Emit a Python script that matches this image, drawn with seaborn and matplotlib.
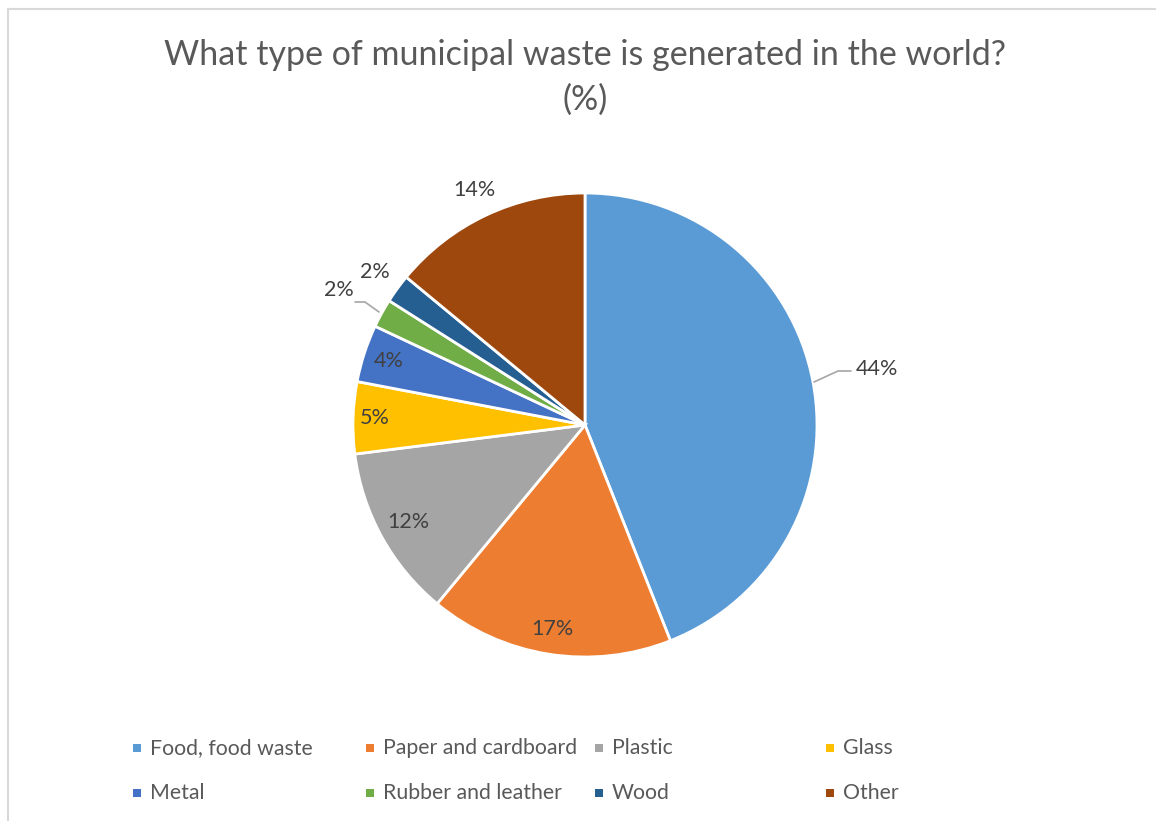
import matplotlib
matplotlib.use("Agg")
import matplotlib.pyplot as plt
from matplotlib.patches import Rectangle
from matplotlib.lines import Line2D
import numpy as np
import seaborn as sns

# data
categories = ["Food, food waste", "Paper and cardboard", "Plastic", "Glass",
              "Metal", "Rubber and leather", "Wood", "Other"]
shares = [44, 17, 12, 5, 4, 2, 2, 14]
colors = ["#5B9BD5", "#ED7D31", "#A5A5A5", "#FFC000",
          "#4472C4", "#70AD47", "#255E91", "#9E480E"]
# radial distance of each percentage label (1 = pie edge)
label_r = [1.28, 0.89, 0.87, 0.905, 0.89, 1.21, 1.12, 1.12]

sns.set_theme(style="white")
plt.rcParams['font.family'] = ['Lato', 'DejaVu Sans']

W, H = 1156, 821
fig = plt.figure(figsize=(W / 100, H / 100), dpi=100)

# chart frame (top and left edge visible)
fig.add_artist(Line2D([8 / W, 8 / W], [0, 1 - 9 / H], color="#D9D9D9", lw=1.5))
fig.add_artist(Line2D([8 / W, 1], [1 - 9 / H, 1 - 9 / H], color="#D9D9D9", lw=1.5))

fig.text(585 / W, 1 - 55 / H, "What type of municipal waste is generated in the world?",
         ha="center", va="center", fontsize=24.5, color="#595959")
fig.text(585 / W, 1 - 100 / H, "(%)", ha="center", va="center", fontsize=24.5, color="#595959")

# pie axes
R = 232
cx, cy = 585, 425
lim = 1.4
side = 2 * lim * R
ax = fig.add_axes([(cx - side / 2) / W, (H - cy - side / 2) / H, side / W, side / H])
wedges, _ = ax.pie(shares, colors=colors, startangle=90, counterclock=False,
                   wedgeprops=dict(edgecolor="white", linewidth=2))
ax.set_xlim(-lim, lim)
ax.set_ylim(-lim, lim)
ax.set_aspect("equal")
ax.axis("off")

for w, v, r in zip(wedges, shares, label_r):
    ang = np.deg2rad((w.theta1 + w.theta2) / 2)
    ax.text(r * np.cos(ang), r * np.sin(ang), f"{v}%", ha="center", va="center",
            fontsize=15.5, color="#404040")

# leader lines for outside labels
def leader(p0, p1, p2):
    xs = [(p[0] - cx) / R for p in (p0, p1, p2)]
    ys = [(cy - p[1]) / R for p in (p0, p1, p2)]
    ax.plot(xs, ys, color="#A6A6A6", lw=1.2, clip_on=False)

leader((814, 382), (838, 371), (851, 371))
leader((379, 312), (365, 302), (355, 302))

# legend
col_x = [133, 366, 595, 826]
row_y = [748, 793]
for i, (lab, col) in enumerate(zip(categories, colors)):
    x = col_x[i % 4]
    y = row_y[i // 4]
    fig.add_artist(Rectangle((x / W, (H - y - 4) / H), 8 / W, 8 / H,
                             facecolor=col, edgecolor="none", transform=fig.transFigure))
    fig.text((x + 17) / W, (H - y) / H, lab, ha="left", va="center",
             fontsize=15.3, color="#595959")

fig.savefig("out.png", dpi=100, facecolor="white")
